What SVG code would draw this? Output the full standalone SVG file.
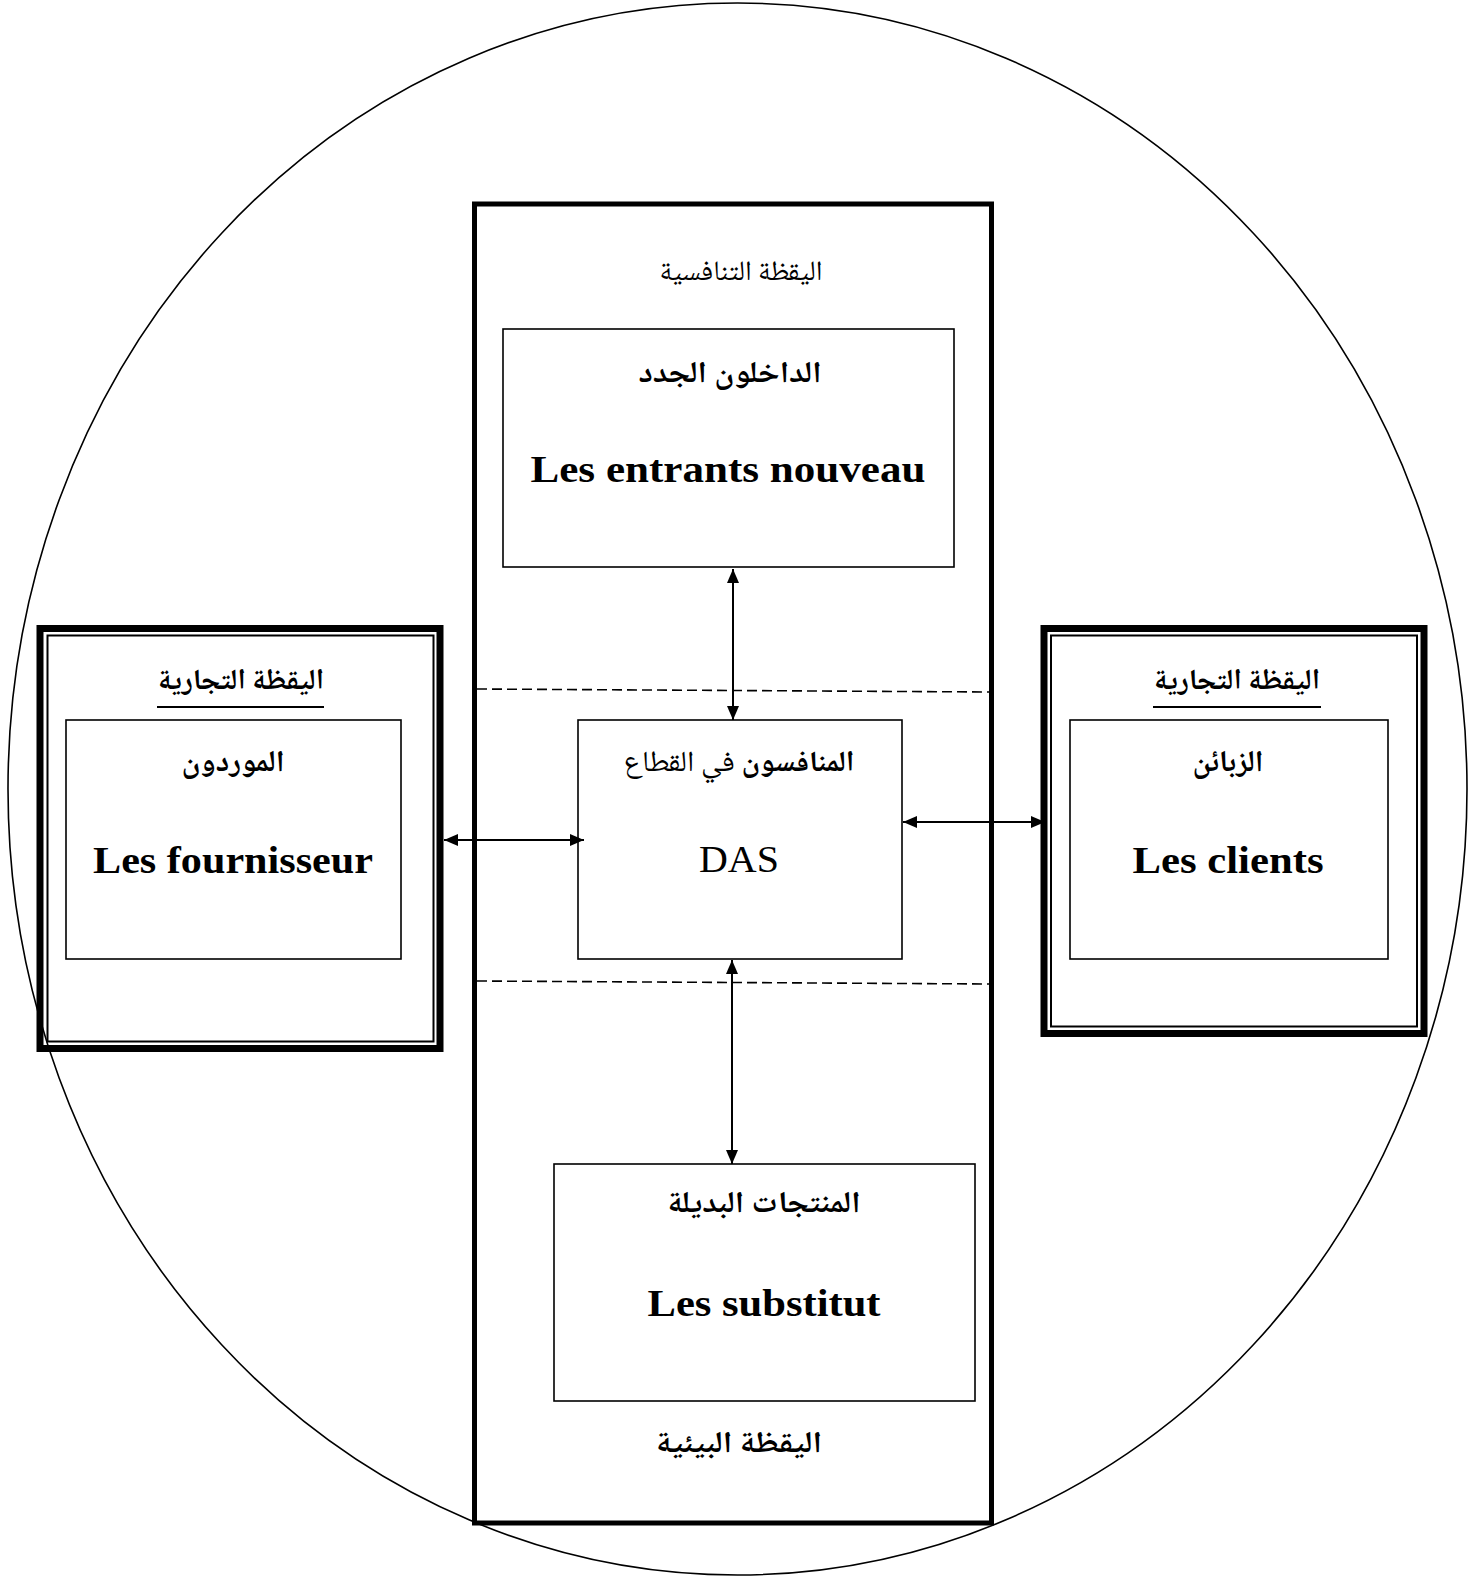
<svg xmlns="http://www.w3.org/2000/svg" width="1476" height="1576" viewBox="0 0 1476 1576">
<defs>
<marker id="ah" viewBox="0 0 14 12" refX="14" refY="6" markerWidth="14" markerHeight="12" markerUnits="userSpaceOnUse" orient="auto-start-reverse">
<path d="M0,0 L14,6 L0,12 Z" fill="#000"/>
</marker>
<style>
.ar{font-family:"Noto Naskh Arabic","Noto Sans Arabic","DejaVu Sans",sans-serif;fill:#000;text-anchor:middle;direction:rtl}
.arb{font-weight:bold}
.lat{font-family:"Liberation Serif","Times New Roman",serif;font-weight:bold;fill:#000;text-anchor:middle}
.box{fill:none;stroke:#000;stroke-width:1.6}
.thick{fill:#fff;stroke:#000;stroke-width:5}
.frame{fill:none;stroke:#000;stroke-width:7}
.dash{stroke:#000;stroke-width:1.6;stroke-dasharray:10 5;fill:none}
.conn{stroke:#000;stroke-width:2;fill:none;marker-start:url(#ah);marker-end:url(#ah)}
</style>
</defs>
<rect width="1476" height="1576" fill="#fff"/>
<ellipse cx="737.5" cy="789" rx="729.5" ry="786" fill="none" stroke="#000" stroke-width="1.6"/>

<g id="central-zone">
<rect class="thick" x="474.5" y="204" width="517" height="1319"/>
<text class="ar" x="741" y="280" font-size="28" textLength="163" lengthAdjust="spacingAndGlyphs">اليقظة التنافسية</text>
<line class="dash" x1="477" y1="689" x2="990" y2="692"/>
<line class="dash" x1="477" y1="981" x2="990" y2="984"/>
<text class="ar arb" x="739" y="1452" font-size="30" textLength="166" lengthAdjust="spacingAndGlyphs">اليقظة البيئية</text>
</g>

<g id="node-entrants">
<rect class="box" x="503" y="329" width="451" height="238"/>
<text class="ar arb" x="730" y="382" font-size="30" textLength="183" lengthAdjust="spacingAndGlyphs">الداخلون الجدد</text>
<text class="lat" x="728" y="482" font-size="37" textLength="395" lengthAdjust="spacingAndGlyphs">Les entrants nouveau</text>
</g>

<g id="node-das">
<rect class="box" x="578" y="720" width="324" height="239"/>
<text class="ar" x="739" y="771" font-size="29" textLength="231" lengthAdjust="spacingAndGlyphs"><tspan font-weight="bold">المنافسون</tspan> في القطاع</text>
<text x="739" y="872" font-family="Liberation Serif,serif" font-size="38" text-anchor="middle" fill="#000" textLength="80" lengthAdjust="spacingAndGlyphs">DAS</text>
</g>

<g id="node-substitut">
<rect class="box" x="554" y="1164" width="421" height="237"/>
<text class="ar arb" x="764" y="1212" font-size="30" textLength="193" lengthAdjust="spacingAndGlyphs">المنتجات البديلة</text>
<text class="lat" x="764" y="1316" font-size="37" textLength="233" lengthAdjust="spacingAndGlyphs">Les substitut</text>
</g>

<g id="zone-left">
<rect class="frame" x="40" y="628.5" width="400" height="420"/>
<rect class="box" x="47.5" y="635.5" width="386" height="406" style="stroke-width:2"/>
<text class="ar arb" x="241" y="689" font-size="29" textLength="166" lengthAdjust="spacingAndGlyphs">اليقظة التجارية</text>
<line x1="157" y1="707" x2="324" y2="707" stroke="#000" stroke-width="2"/>
</g>
<g id="node-fournisseur">
<rect class="box" x="66" y="720" width="335" height="239"/>
<text class="ar arb" x="233" y="771" font-size="30" textLength="103" lengthAdjust="spacingAndGlyphs">الموردون</text>
<text class="lat" x="233" y="873" font-size="37" textLength="280" lengthAdjust="spacingAndGlyphs">Les fournisseur</text>
</g>

<g id="zone-right">
<rect class="frame" x="1044" y="628.5" width="380" height="405"/>
<rect class="box" x="1051" y="635.5" width="366" height="391" style="stroke-width:2"/>
<text class="ar arb" x="1237" y="689" font-size="29" textLength="166" lengthAdjust="spacingAndGlyphs">اليقظة التجارية</text>
<line x1="1153" y1="707" x2="1321" y2="707" stroke="#000" stroke-width="2"/>
</g>
<g id="node-clients">
<rect class="box" x="1070" y="720" width="318" height="239"/>
<text class="ar arb" x="1228" y="771" font-size="30" textLength="71" lengthAdjust="spacingAndGlyphs">الزبائن</text>
<text class="lat" x="1228" y="873" font-size="37" textLength="191" lengthAdjust="spacingAndGlyphs">Les clients</text>
</g>

<g id="connectors">
<line class="conn" x1="733" y1="569" x2="733" y2="720"/>
<line class="conn" x1="732" y1="960" x2="732" y2="1164"/>
<line class="conn" x1="444" y1="840" x2="584" y2="840"/>
<line class="conn" x1="903" y1="822" x2="1045" y2="822"/>
</g>
</svg>
